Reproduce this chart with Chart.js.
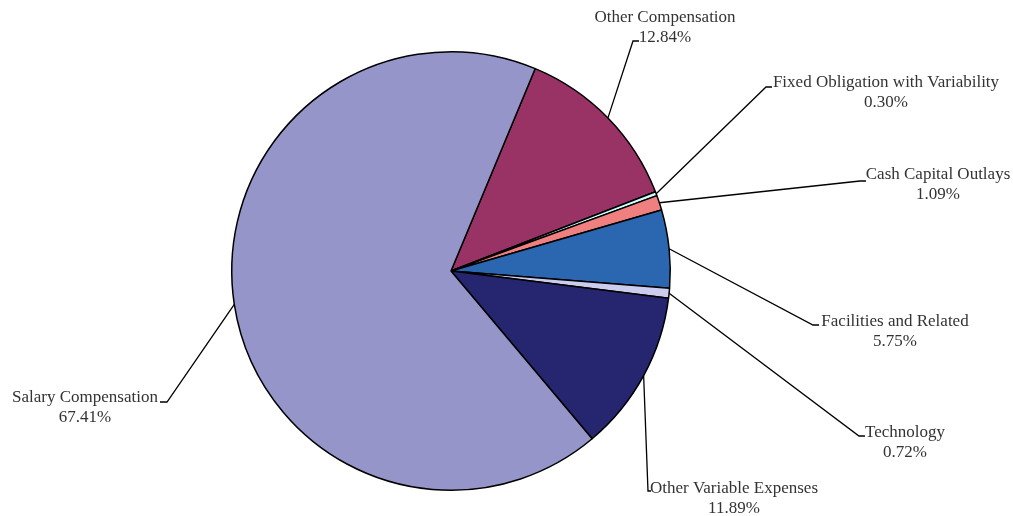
<!DOCTYPE html>
<html>
<head>
<meta charset="utf-8">
<script src="https://cdn.jsdelivr.net/npm/chart.js@4"></script>
<style>
  html, body { margin: 0; padding: 0; background: #fff; }
  #wrap { width: 1013px; height: 516px; position: relative; }
</style>
</head>
<body>
<div id="wrap"><canvas id="pie"></canvas></div>
<script>
  "use strict";

  var categories = [
    "Other Compensation",
    "Fixed Obligation with Variability",
    "Cash Capital Outlays",
    "Facilities and Related",
    "Technology",
    "Other Variable Expenses",
    "Salary Compensation",
  ];
  var shares = [12.84, 0.30, 1.09, 5.75, 0.72, 11.89, 67.41];
  var sliceColors = ["#993366", "#ccffff", "#f08080", "#2b67b0", "#ccccee", "#262670", "#9595c9"];

  // label placement: elbow of leader line, tick direction, text centre x, baseline of first line
  var labelLayout = [
    { ex: 633, ey: 41, tick: 6, tx: 665, ty: 22 },
    { ex: 766, ey: 87, tick: 6, tx: 886, ty: 87 },
    { ex: 860, ey: 181, tick: 6, tx: 938, ty: 179 },
    { ex: 813, ey: 325, tick: 6, tx: 895, ty: 326 },
    { ex: 859, ey: 436, tick: 6, tx: 905, ty: 437 },
    { ex: 648, ey: 491, tick: 3, tx: 734, ty: 493 },
    { ex: 167, ey: 402, tick: -7, tx: 85, ty: 402 },
  ];

  var leaderLabels = {
    id: "leaderLabels",
    afterDraw: function(chart) {
      var ctx = chart.ctx;
      var arcs = chart.getDatasetMeta(0).data;
      ctx.save();
      ctx.strokeStyle = "#000";
      ctx.lineWidth = 1.3;
      ctx.fillStyle = "#333";
      ctx.font = "17px 'Liberation Serif', 'Times New Roman', serif";
      ctx.textAlign = "center";
      ctx.textBaseline = "alphabetic";
      arcs.forEach(function(arc, i) {
        var p = arc.getProps(["x", "y", "startAngle", "endAngle", "outerRadius"], true);
        var mid = (p.startAngle + p.endAngle) / 2;
        var ax = p.x + Math.cos(mid) * p.outerRadius;
        var ay = p.y + Math.sin(mid) * p.outerRadius;
        var lay = labelLayout[i];
        ctx.beginPath();
        ctx.moveTo(ax, ay);
        ctx.lineTo(lay.ex, lay.ey);
        ctx.lineTo(lay.ex + lay.tick, lay.ey);
        ctx.stroke();
        ctx.fillText(categories[i], lay.tx, lay.ty);
        ctx.fillText(shares[i].toFixed(2) + "%", lay.tx, lay.ty + 20);
      });
      ctx.restore();
    },
  };

  var ctx = document.getElementById("pie").getContext("2d");

  window.myPie = new Chart(ctx, {
    type: "pie",
    data: {
      labels: categories,
      datasets: [
        {
          data: shares,
          backgroundColor: sliceColors,
          borderColor: "#000",
          borderWidth: 1.5,
        },
      ],
    },
    options: {
      responsive: true,
      maintainAspectRatio: false,
      animation: false,
      rotation: 22.6,
      layout: {
        padding: { top: 51, bottom: 25, left: 231, right: 342 },
      },
      plugins: {
        legend: { display: false },
        tooltip: { enabled: false },
      },
    },
    plugins: [leaderLabels],
  });
</script>
</body>
</html>
